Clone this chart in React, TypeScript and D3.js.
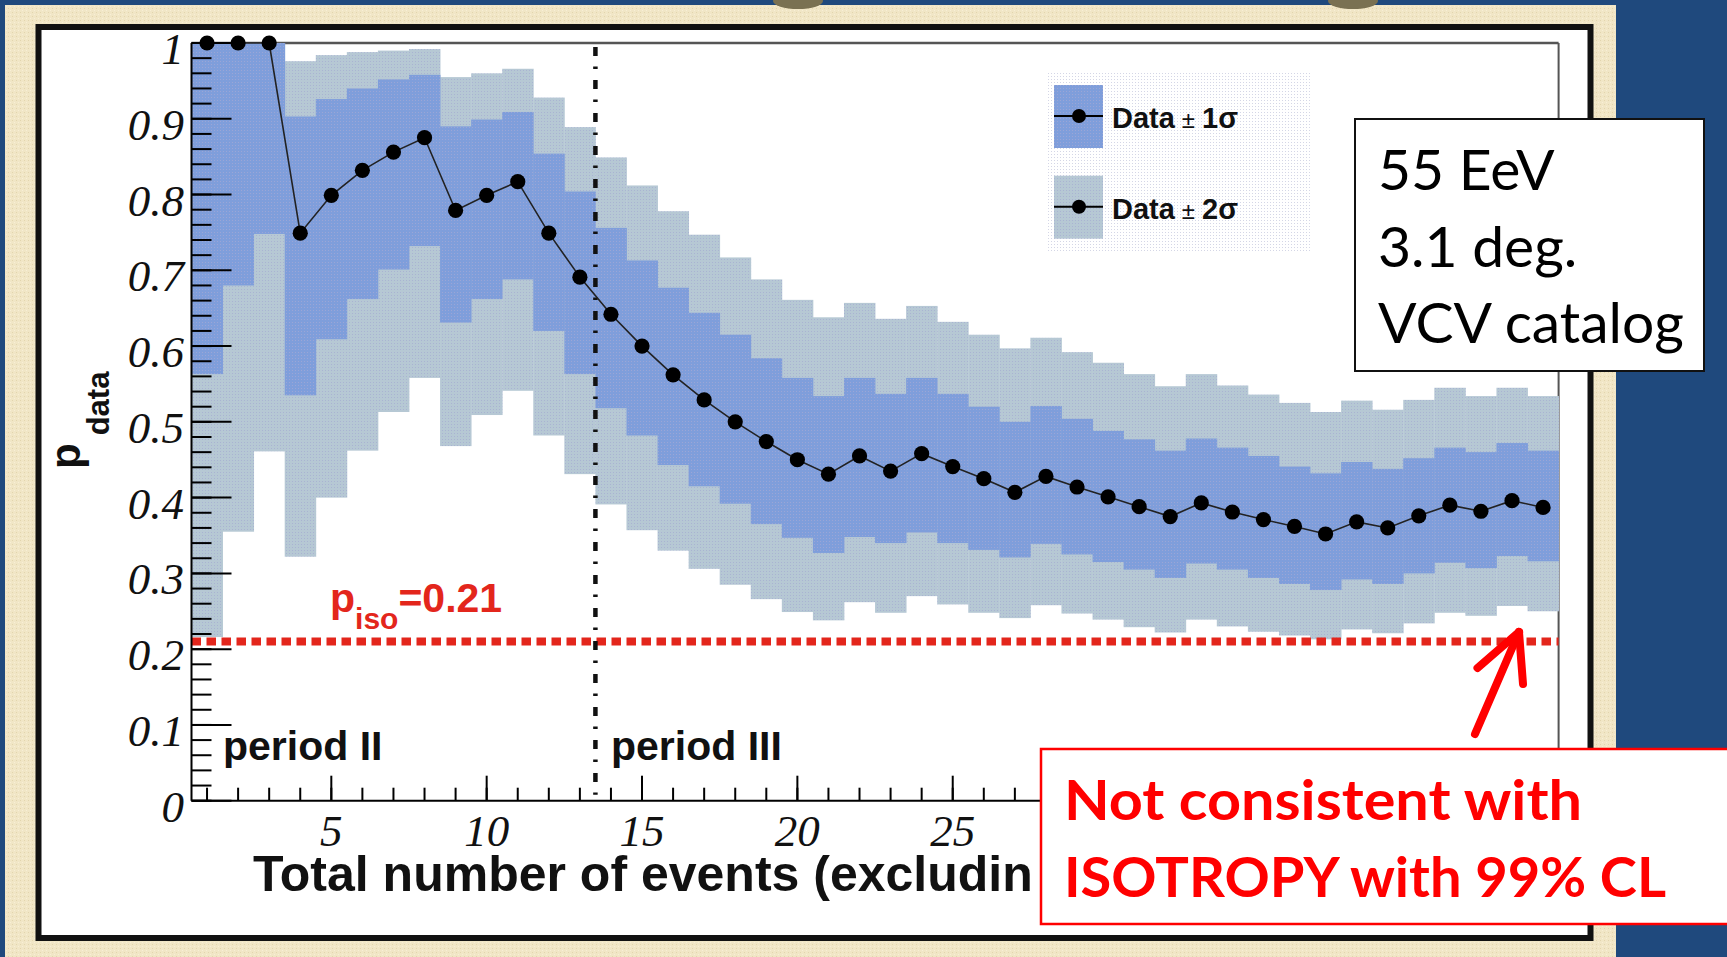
import React from "react";
import * as d3 from "d3";

// Correlation fraction p_data versus cumulative event count
const pData = [1.0, 1.0, 1.0, 0.749, 0.799, 0.832, 0.856, 0.875, 0.779, 0.799, 0.817, 0.749, 0.691, 0.642, 0.6, 0.562, 0.529, 0.5, 0.474, 0.45, 0.431, 0.455, 0.435, 0.458, 0.441, 0.425, 0.407, 0.428, 0.414, 0.401, 0.388, 0.375, 0.393, 0.381, 0.371, 0.362, 0.352, 0.368, 0.36, 0.376, 0.39, 0.382, 0.396, 0.387];
const sigma1Hi = [1, 1, 1, 0.903, 0.926, 0.94, 0.952, 0.958, 0.89, 0.899, 0.909, 0.854, 0.804, 0.756, 0.713, 0.677, 0.644, 0.615, 0.584, 0.558, 0.534, 0.558, 0.537, 0.558, 0.537, 0.52, 0.5, 0.521, 0.504, 0.488, 0.477, 0.462, 0.478, 0.466, 0.455, 0.441, 0.432, 0.447, 0.438, 0.452, 0.466, 0.46, 0.472, 0.462];
const sigma1Lo = [0.563, 0.68, 0.748, 0.535, 0.609, 0.662, 0.701, 0.732, 0.631, 0.662, 0.688, 0.62, 0.563, 0.518, 0.482, 0.443, 0.415, 0.392, 0.365, 0.347, 0.327, 0.348, 0.34, 0.354, 0.34, 0.331, 0.321, 0.339, 0.325, 0.315, 0.305, 0.294, 0.313, 0.305, 0.294, 0.286, 0.278, 0.292, 0.286, 0.3, 0.314, 0.307, 0.323, 0.316];
const sigma2Hi = [1, 1, 1, 0.976, 0.984, 0.988, 0.99, 0.992, 0.955, 0.96, 0.966, 0.928, 0.889, 0.849, 0.812, 0.778, 0.747, 0.717, 0.688, 0.661, 0.638, 0.657, 0.636, 0.653, 0.632, 0.615, 0.597, 0.611, 0.592, 0.578, 0.563, 0.547, 0.563, 0.548, 0.536, 0.525, 0.513, 0.528, 0.516, 0.529, 0.545, 0.534, 0.545, 0.534];
const sigma2Lo = [0.216, 0.355, 0.461, 0.322, 0.4, 0.462, 0.513, 0.558, 0.468, 0.509, 0.541, 0.482, 0.431, 0.391, 0.357, 0.33, 0.306, 0.285, 0.266, 0.249, 0.238, 0.262, 0.248, 0.27, 0.259, 0.248, 0.241, 0.258, 0.247, 0.239, 0.229, 0.222, 0.239, 0.23, 0.223, 0.218, 0.213, 0.226, 0.221, 0.234, 0.248, 0.244, 0.257, 0.25];
const events = pData.map((_, i) => i + 1);

const pIso = 0.21;
const periodBoundary = 13.5;
const xTickLabels = [5, 10, 15, 20, 25, 30, 35, 40];
const yTickLabels = [0, 0.1, 0.2, 0.3, 0.4, 0.5, 0.6, 0.7, 0.8, 0.9, 1];
const legendItems = ["1σ", "2σ"];
const infoLines = ["55 EeV", "3.1 deg.", "VCV catalog"];
const noteLines = ["Not consistent with", "ISOTROPY with 99% CL"];
const noteWidths = [518, 602];

const W = 1727;
const H = 957;
const HELV = "'Liberation Sans', Arial, Helvetica, sans-serif";
const TIMES = "'Liberation Serif', 'Times New Roman', serif";
const CAL = "Lato, 'Open Sans', sans-serif";
const RED = "#e3261c";

// conclusion box that covers the lower right of the canvas
const noteBox = { x: 1041, y: 749, w: 700, h: 175 };

export default function App() {
  const x = d3.scaleLinear().domain([0.5, 44.5]).range([191.5, 1558.6]);
  const y = d3.scaleLinear().domain([0, 1]).range([800.7, 43]);

  const line = d3
    .line<number>()
    .x((_, i) => x(events[i]))
    .y((d) => y(d));

  const minorY = y.ticks(50);
  const majorY = yTickLabels;
  const minorX = events;
  const shownXLabels = xTickLabels.filter((v) => x(v) + 30 < noteBox.x);

  const bandRects = (lo: number[], hi: number[], fill: string) =>
    events.map((n, i) => (
      <rect
        key={n}
        x={x(n - 0.5)}
        y={y(hi[i])}
        width={x(n + 0.5) - x(n - 0.5) + 0.4}
        height={y(lo[i]) - y(hi[i])}
        fill={fill}
      />
    ));

  return (
    <svg
      width={W}
      height={H}
      viewBox={`0 0 ${W} ${H}`}
      style={{ position: "absolute", left: 0, top: 0, display: "block" }}
    >
      <defs>
        <pattern id="tex1" width="3" height="3" patternUnits="userSpaceOnUse">
          <rect width="3" height="3" fill="#7f9edb" />
          <rect x="1" y="1" width="1" height="1" fill="#9ba6d6" />
        </pattern>
        <pattern id="tex2" width="3" height="3" patternUnits="userSpaceOnUse">
          <rect width="3" height="3" fill="#b6c8d4" />
          <rect x="1" y="1" width="1" height="1" fill="#a9b3d2" />
        </pattern>
        <pattern id="legendTex" width="3" height="3" patternUnits="userSpaceOnUse">
          <rect width="3" height="3" fill="#ffffff" />
          <rect x="1" y="1" width="1" height="1" fill="#d4d6e6" />
        </pattern>
        <pattern id="paper" width="4" height="4" patternUnits="userSpaceOnUse">
          <rect width="4" height="4" fill="#f1e6c6" />
          <rect x="0" y="0" width="1" height="1" fill="#e3d5ad" />
          <rect x="2" y="2" width="1" height="1" fill="#f8efd6" />
        </pattern>
        <clipPath id="titleClip">
          <rect x={0} y={0} width={noteBox.x} height={H} />
        </clipPath>
      </defs>

      {/* slide background and paper panel */}
      <rect width={W} height={H} fill="#1f497d" />
      <rect x={5} y={5} width={1611} height={H - 5} fill="url(#paper)" />
      <ellipse cx={798} cy={1} rx={25} ry={8} fill="#7a7152" />
      <ellipse cx={1353} cy={1} rx={25} ry={8} fill="#7a7152" />

      {/* canvas box */}
      <rect x={38.5} y={27} width={1552} height={911} fill="#ffffff" stroke="#111" strokeWidth={6} />

      {/* frame */}
      <line x1={x(0.5)} x2={x(44.5)} y1={y(1)} y2={y(1)} stroke="#555" strokeWidth={2.5} />
      <line x1={x(44.5)} x2={x(44.5)} y1={y(1)} y2={y(0)} stroke="#555" strokeWidth={2} />

      {/* legend */}
      <rect x={1046} y={72} width={266} height={181} fill="url(#legendTex)" />
      {legendItems.map((lab, i) => {
        const cy = 116 + i * 90.7;
        return (
          <g key={lab}>
            <rect x={1054} y={cy - 31} width={49} height={63} fill={i === 0 ? "url(#tex1)" : "url(#tex2)"} />
            <line x1={1054} x2={1103} y1={cy} y2={cy} stroke="#000" strokeWidth={2} />
            <circle cx={1079} cy={cy} r={7} fill="#000" />
            <text x={1112} y={cy + 12} fontFamily={HELV} fontWeight="bold" fontSize={29} fill="#111">
              Data
              <tspan fontWeight="normal" fontSize={24} dx={7}>±</tspan>
              <tspan dx={7}>{lab}</tspan>
            </text>
          </g>
        );
      })}

      {/* bands */}
      <g>{bandRects(sigma2Lo, sigma2Hi, "url(#tex2)")}</g>
      <g>{bandRects(sigma1Lo, sigma1Hi, "url(#tex1)")}</g>

      {/* isotropic expectation */}
      <line
        x1={x(0.5)}
        x2={x(44.5)}
        y1={y(pIso)}
        y2={y(pIso)}
        stroke={RED}
        strokeWidth={8}
        strokeDasharray="9.5 5.5"
      />

      {/* period boundary */}
      <line
        x1={x(periodBoundary)}
        x2={x(periodBoundary)}
        y1={y(1) + 4}
        y2={y(0) - 6}
        stroke="#111"
        strokeWidth={4.5}
        strokeDasharray="9 10.5 2.5 11"
      />

      {/* data */}
      <path d={line(pData) || ""} fill="none" stroke="#222" strokeWidth={1.6} />
      {events.map((n, i) => (
        <circle key={n} cx={x(n)} cy={y(pData[i])} r={7.6} fill="#000" />
      ))}

      {/* axes */}
      <line x1={x(0.5)} x2={x(0.5)} y1={y(1)} y2={y(0)} stroke="#000" strokeWidth={2} />
      <line x1={x(0.5)} x2={x(44.5)} y1={y(0)} y2={y(0)} stroke="#000" strokeWidth={2} />
      {minorY.map((v) => (
        <line key={"ym" + v} x1={x(0.5)} x2={x(0.5) + 20} y1={y(v)} y2={y(v)} stroke="#000" strokeWidth={2} />
      ))}
      {majorY.map((v) => (
        <line key={"yM" + v} x1={x(0.5)} x2={x(0.5) + 40} y1={y(v)} y2={y(v)} stroke="#000" strokeWidth={2} />
      ))}
      {minorX.map((v) => (
        <line key={"xm" + v} x1={x(v)} x2={x(v)} y1={y(0)} y2={y(0) - 13} stroke="#000" strokeWidth={2} />
      ))}
      {xTickLabels.map((v) => (
        <line key={"xM" + v} x1={x(v)} x2={x(v)} y1={y(0)} y2={y(0) - 25} stroke="#000" strokeWidth={2} />
      ))}
      {majorY.map((v) => (
        <text
          key={"yl" + v}
          x={184}
          y={y(v) + 21}
          textAnchor="end"
          fontFamily={TIMES}
          fontStyle="italic"
          fontSize={45}
          fill="#111"
        >
          {d3.format("~g")(v)}
        </text>
      ))}
      {shownXLabels.map((v) => (
        <text
          key={"xl" + v}
          x={x(v)}
          y={846}
          textAnchor="middle"
          fontFamily={TIMES}
          fontStyle="italic"
          fontSize={45}
          fill="#111"
        >
          {v}
        </text>
      ))}

      {/* axis titles */}
      <g clipPath="url(#titleClip)">
        <text x={253} y={891} fontFamily={HELV} fontWeight="bold" fontSize={50} fill="#111">
          Total number of events (excludin
        </text>
      </g>
      <text transform="translate(80,469) rotate(-90)" fontFamily={HELV} fontWeight="bold" fontSize={42} fill="#111">
        p
        <tspan dx={8} dy={29} fontSize={31}>data</tspan>
      </text>

      {/* annotations inside the plot */}
      <text x={330} y={612} fontFamily={HELV} fontWeight="bold" fontSize={41} fill={RED}>
        p
        <tspan fontSize={30} dy={17}>iso</tspan>
        <tspan dy={-17}>=0.21</tspan>
      </text>
      <text x={223} y={760} fontFamily={HELV} fontWeight="bold" fontSize={41} fill="#111">
        period II
      </text>
      <text x={611} y={760} fontFamily={HELV} fontWeight="bold" fontSize={41} fill="#111">
        period III
      </text>

      {/* info box */}
      <rect x={1355} y={119} width={349} height={252} fill="#fff" stroke="#111" strokeWidth={2} />
      {infoLines.map((t, i) => (
        <text key={t} x={1378} y={190 + i * 76.7} fontFamily={CAL} fontSize={57} fill="#000">
          {t}
        </text>
      ))}

      {/* conclusion box */}
      <rect x={noteBox.x} y={noteBox.y} width={noteBox.w} height={noteBox.h} fill="#fff" stroke="#ff0000" strokeWidth={2.5} />
      {noteLines.map((t, i) => (
        <text
          key={t}
          x={1064}
          y={820 + i * 76.7}
          fontFamily={CAL}
          fontWeight="bold"
          fontSize={56}
          fill="#ff0000"
          textLength={noteWidths[i]}
          lengthAdjust="spacingAndGlyphs"
        >
          {t}
        </text>
      ))}

      {/* arrow */}
      <g stroke="#ff0000" strokeWidth={8} strokeLinecap="round" fill="none">
        <line x1={1475} y1={734} x2={1519} y2={632} />
        <line x1={1519} y1={632} x2={1477.5} y2={668} />
        <line x1={1519} y1={632} x2={1523} y2={684} />
      </g>
    </svg>
  );
}
